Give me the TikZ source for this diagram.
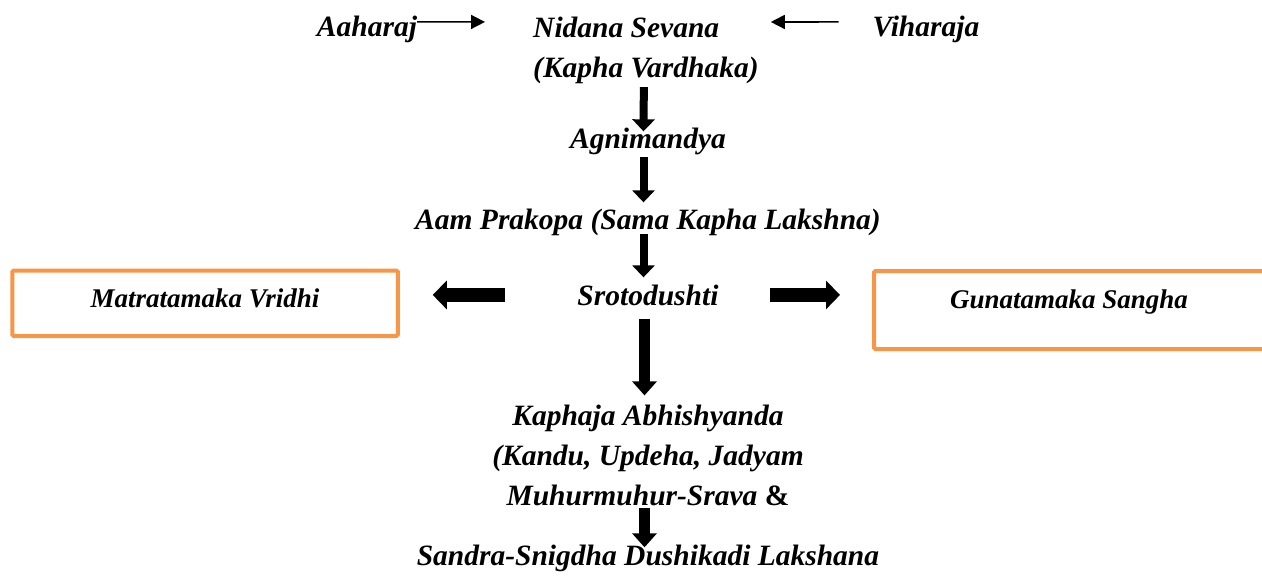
\documentclass[tikz,border=0pt]{standalone}
\usepackage{fontspec}
\setmainfont{Liberation Serif}
\usetikzlibrary{arrows.meta}
\definecolor{frameorange}{HTML}{F79646}
\begin{document}
\begin{tikzpicture}[x=1pt, y=-1pt,
  font=\fontsize{29.5}{40}\selectfont\bfseries\itshape,
  stage/.style={inner sep=0pt, align=center},
  frame/.style={draw=frameorange, line width=4pt, rounded corners=1.5pt,
                inner sep=0pt, font=\fontsize{27}{30}\selectfont\bfseries\itshape},
  feed/.style={-{Triangle[width=14pt,length=14pt]}, line width=1.6pt},
  flow/.style={-{Triangle[width=22pt,length=12pt]}, line width=8pt},
  bigflow/.style={-{Triangle[width=24pt,length=14pt]}, line width=11pt},
  side/.style={-{Triangle[width=28pt,length=14pt]}, line width=14pt}]

\useasboundingbox (0,0) rectangle (1262,578);

% causes
\node[stage, anchor=base] (aahar) at (367,37) {Aaharaj};
\node[stage, anchor=base] (vihar) at (926,37) {Viharaja};
\node[stage, align=left, anchor=west] (nidana) at (533,50) {Nidana Sevana\\ (Kapha Vardhaka)};
\draw[feed, shorten >=48pt] ([yshift=8pt]aahar.east) -- ([yshift=28pt]nidana.west);
\draw[feed, shorten <=34pt, shorten >=12pt] ([yshift=8pt]vihar.west) -- ([yshift=28pt]nidana.east);

% main chain
\node[stage, anchor=base] (agni)   at (648,148) {Agnimandya};
\node[stage, anchor=base] (aam)    at (648,229) {Aam Prakopa (Sama Kapha Lakshna)};
\node[stage, anchor=base] (sroto)  at (648,305) {Srotodushti};
\node[stage] (kaphaja) at (648,455) {Kaphaja Abhishyanda\\ (Kandu, Updeha, Jadyam\\ Muhurmuhur-Srava {\upshape\&}};
\node[stage, anchor=base] (sandra) at (648,565) {Sandra-Snigdha Dushikadi Lakshana};

\draw[flow, shorten <=3.6pt, shorten >=-4pt] ([xshift=-2pt]nidana.south) -- ([xshift=-4.5pt]agni.north);
\draw[flow, shorten <=2.6pt, shorten >=6pt] ([xshift=-4.5pt]agni.south) -- ([xshift=-4.5pt]aam.north);
\draw[flow, shorten <=-1.4pt, shorten >=7pt] ([xshift=-4.5pt]aam.south) -- ([xshift=-4.5pt]sroto.north);
\draw[bigflow, shorten <=13pt, shorten >=9pt] ([xshift=-3.5pt]sroto.south) -- ([xshift=-3.5pt]kaphaja.north);
\draw[bigflow, shorten <=2pt, shorten >=-3pt] ([xshift=-3.5pt]kaphaja.south) -- ([xshift=-3.5pt]sandra.north);

% two outcomes
\node[frame, anchor=base, minimum width=385.5pt, text height=36.5pt, text depth=29pt]
  (matra) at (205,307) {Matratamaka Vridhi};
\node[frame, anchor=base, minimum width=390pt, text height=37pt, text depth=41pt]
  (gunata) at (1069,308) {Gunatamaka Sangha};

\draw[side, shorten <=72pt, shorten >=33pt] (sroto.west) -- (sroto.west -| matra.east);
\draw[side, shorten <=51pt, shorten >=32pt] (sroto.east) -- (sroto.east -| gunata.west);
\end{tikzpicture}
\end{document}
